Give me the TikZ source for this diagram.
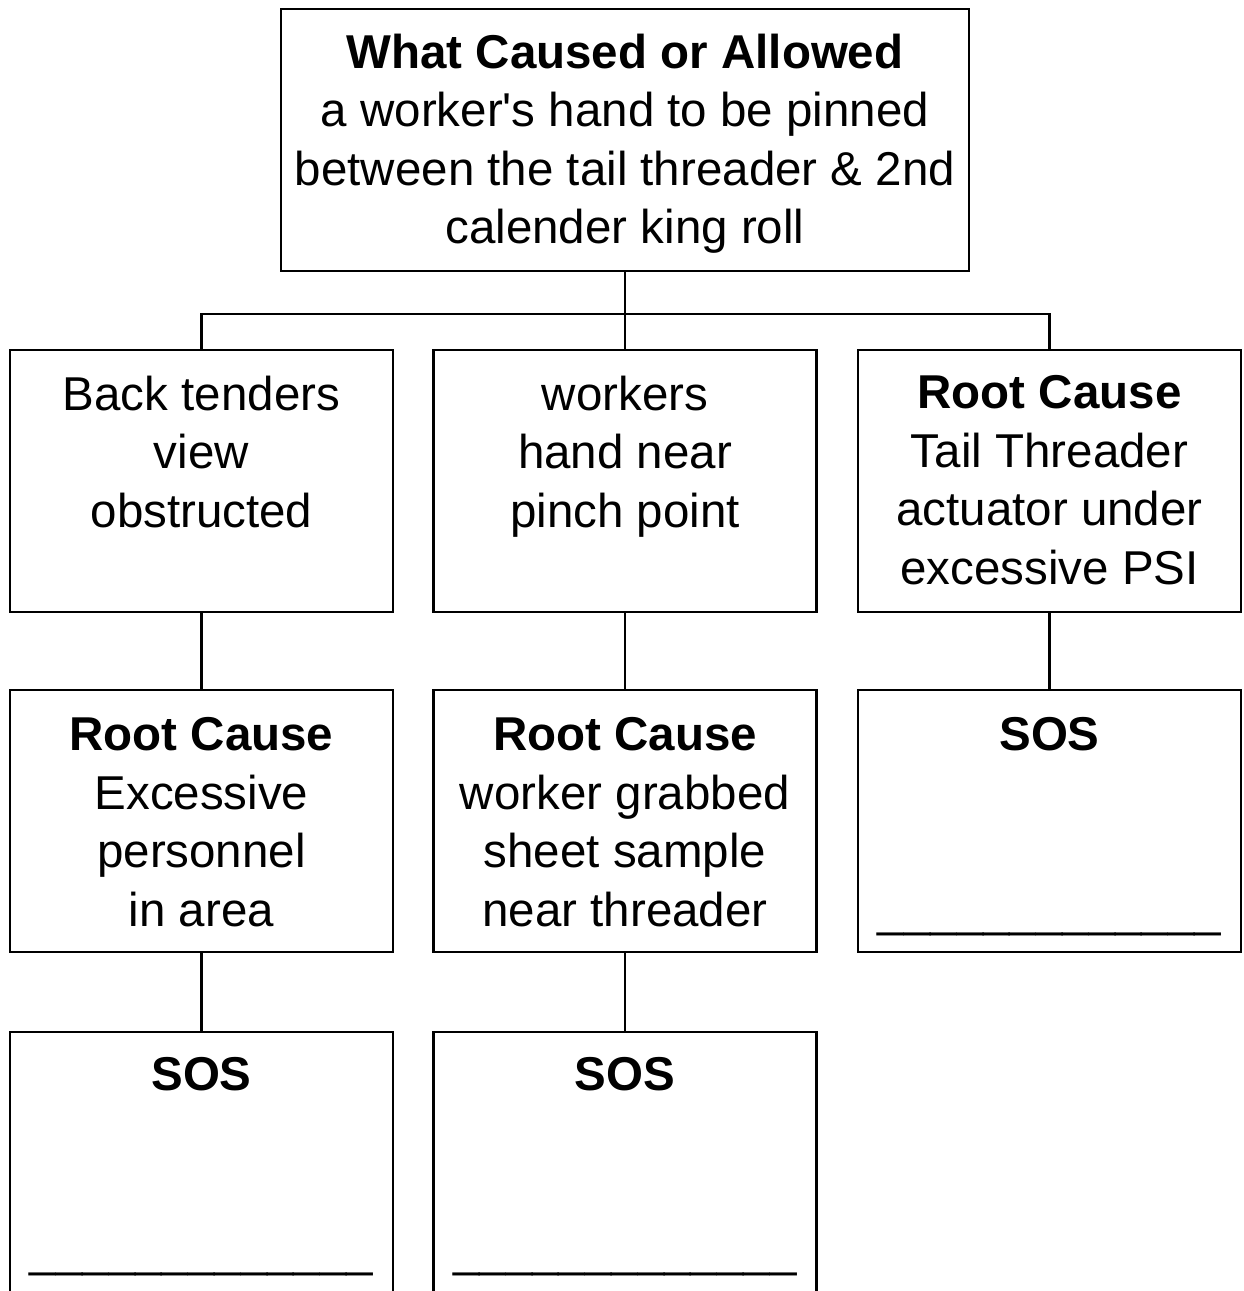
\documentclass[tikz,border=0pt]{standalone}
\usepackage{fontspec}
\setmainfont{Liberation Sans}[Ligatures=TeXOff]
\begin{document}
\begin{tikzpicture}[x=1pt,y=-1pt,
  box/.style={draw=black,line width=2.9pt,minimum width=383pt,minimum height=262pt,inner sep=0pt},
  bigbox/.style={box,minimum width=688pt},
  txt/.style={anchor=north,align=center,inner sep=0pt,font=\fontsize{47.5}{58.5}\selectfont},
  link/.style={draw=black,line width=2.9pt}]
\useasboundingbox (0,0) rectangle (1244,1291);
\clip (0,0) rectangle (1244,1291);
\fill[white] (0,0) rectangle (1244,1291);
% boxes
\node[bigbox] (top) at (625,140) {};
\node[box] (a1) at (201.5,481) {};
\node[box] (a2) at (625,481) {};
\node[box] (a3) at (1049.5,481) {};
\node[box] (b1) at (201.5,821) {};
\node[box] (b2) at (625,821) {};
\node[box] (b3) at (1049.5,821) {};
\node[box] (c1) at (201.5,1163) {};
\node[box] (c2) at (625,1163) {};
% texts
\node[txt] (ttop) at ([yshift=-26pt]top.north) {\textbf{What Caused or Allowed}\\a worker's hand to be pinned\\between the tail threader \& 2nd\\calender king roll};
\node[txt] (ta1) at ([yshift=-27pt]a1.north) {Back tenders\\view\\obstructed};
\node[txt] (ta2) at ([yshift=-27pt]a2.north) {workers\\hand near\\pinch point};
\node[txt] (ta3) at ([yshift=-27pt]a3.north) {\textbf{Root Cause}\\Tail Threader\\actuator under\\excessive PSI};
\node[txt] (tb1) at ([yshift=-29pt]b1.north) {\textbf{Root Cause}\\Excessive\\personnel\\in area};
\node[txt] (tb2) at ([yshift=-29pt]b2.north) {\textbf{Root Cause}\\worker grabbed\\sheet sample\\near threader};
\node[txt] (tb3) at ([yshift=-29pt]b3.north) {\textbf{SOS}\\\mbox{}\\\mbox{}\\\_\_\_\_\_\_\_\_\_\_\_\_\_};
\node[txt] (tc1) at ([yshift=-27pt]c1.north) {\textbf{SOS}\\\mbox{}\\\mbox{}\\\_\_\_\_\_\_\_\_\_\_\_\_\_};
\node[txt] (tc2) at ([yshift=-27pt]c2.north) {\textbf{SOS}\\\mbox{}\\\mbox{}\\\_\_\_\_\_\_\_\_\_\_\_\_\_};
% connectors
\coordinate (bus) at (625,314);
\draw[link] (top.south) -- (bus);
\draw[link] (a1.north) |- (bus) -| (a3.north);
\draw[link] (bus) -- (a2.north);
\draw[link] (a1.south) -- (b1.north);
\draw[link] (a2.south) -- (b2.north);
\draw[link] (a3.south) -- (b3.north);
\draw[link] (b1.south) -- (c1.north);
\draw[link] (b2.south) -- (c2.north);
\end{tikzpicture}
\end{document}
